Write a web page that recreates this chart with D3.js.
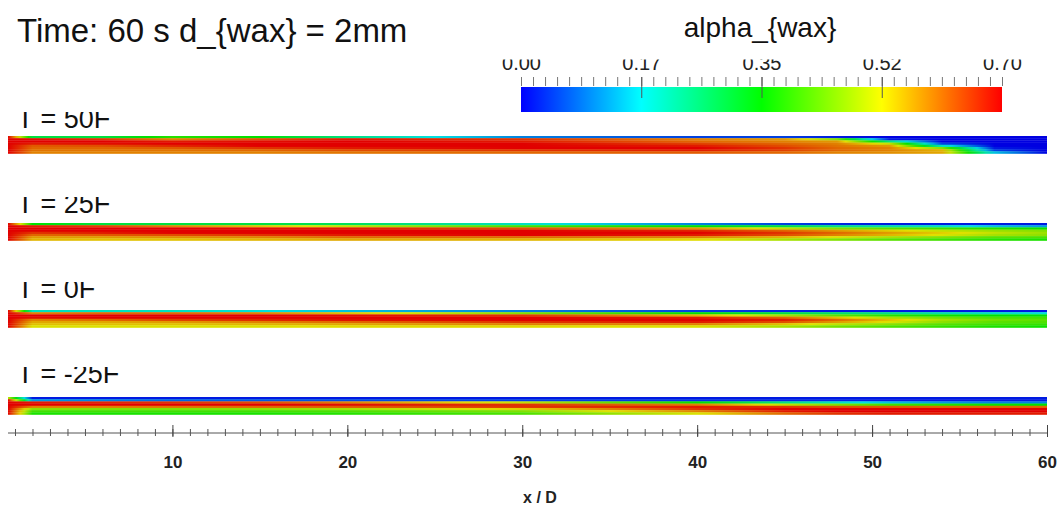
<!DOCTYPE html>
<html>
<head>
<meta charset="utf-8">
<script src="https://cdn.jsdelivr.net/npm/d3@7"></script>
<style>
  body { margin: 0; background: #fff; }
  svg { display: block; font-family: "Liberation Sans", Arial, sans-serif; }
</style>
</head>
<body>
<script>
const caseLabels = ["T = 50F", "T = 25F", "T = 0F", "T = -25F"]

const stations = [0.6, 2, 6, 10, 15, 20, 30, 40, 45, 48, 51, 54, 57, 60]

// alpha_wax per layer, top wall -> bottom wall
const alpha50 = [
  [0.70, 0.30, 0.30, 0.38, 0.35, 0.25, 0.10, 0.05, 0.05, 0.02, 0.00, 0.00, 0.00, 0.00],
  [0.70, 0.69, 0.66, 0.60, 0.64, 0.68, 0.66, 0.60, 0.58, 0.45, 0.02, 0.00, 0.00, 0.00],
  [0.70, 0.70, 0.70, 0.68, 0.69, 0.70, 0.68, 0.62, 0.60, 0.58, 0.25, 0.00, 0.00, 0.00],
  [0.70, 0.68, 0.69, 0.70, 0.70, 0.70, 0.70, 0.65, 0.62, 0.60, 0.50, 0.05, 0.00, 0.00],
  [0.70, 0.63, 0.64, 0.67, 0.70, 0.70, 0.70, 0.68, 0.64, 0.61, 0.58, 0.20, 0.00, 0.00],
  [0.70, 0.62, 0.62, 0.63, 0.66, 0.68, 0.70, 0.70, 0.66, 0.62, 0.60, 0.45, 0.02, 0.00],
  [0.70, 0.61, 0.61, 0.61, 0.62, 0.64, 0.66, 0.68, 0.65, 0.62, 0.60, 0.56, 0.05, 0.00],
  [0.70, 0.60, 0.60, 0.60, 0.60, 0.61, 0.62, 0.63, 0.62, 0.60, 0.59, 0.57, 0.15, 0.00]
]
const alpha25 = [
  [0.70, 0.35, 0.30, 0.30, 0.30, 0.28, 0.20, 0.10, 0.05, 0.03, 0.02, 0.02, 0.02, 0.02],
  [0.70, 0.68, 0.65, 0.60, 0.55, 0.50, 0.40, 0.35, 0.30, 0.25, 0.22, 0.20, 0.15, 0.12],
  [0.70, 0.70, 0.70, 0.70, 0.69, 0.68, 0.64, 0.58, 0.50, 0.45, 0.42, 0.40, 0.38, 0.36],
  [0.70, 0.70, 0.70, 0.70, 0.70, 0.70, 0.70, 0.67, 0.62, 0.58, 0.54, 0.50, 0.47, 0.45],
  [0.70, 0.66, 0.68, 0.70, 0.70, 0.70, 0.70, 0.70, 0.66, 0.62, 0.58, 0.54, 0.50, 0.47],
  [0.70, 0.62, 0.63, 0.64, 0.66, 0.68, 0.70, 0.68, 0.64, 0.60, 0.56, 0.52, 0.48, 0.46],
  [0.70, 0.58, 0.58, 0.59, 0.60, 0.62, 0.62, 0.60, 0.56, 0.52, 0.48, 0.45, 0.42, 0.41],
  [0.70, 0.56, 0.55, 0.55, 0.56, 0.57, 0.56, 0.53, 0.48, 0.45, 0.42, 0.40, 0.38, 0.37]
]
const alpha0 = [
  [0.70, 0.20, 0.20, 0.20, 0.18, 0.15, 0.10, 0.05, 0.03, 0.02, 0.02, 0.02, 0.02, 0.02],
  [0.70, 0.60, 0.62, 0.62, 0.60, 0.55, 0.45, 0.35, 0.30, 0.27, 0.25, 0.22, 0.20, 0.18],
  [0.70, 0.70, 0.70, 0.70, 0.70, 0.69, 0.66, 0.56, 0.48, 0.42, 0.38, 0.36, 0.35, 0.34],
  [0.70, 0.69, 0.70, 0.70, 0.70, 0.70, 0.70, 0.68, 0.62, 0.55, 0.48, 0.44, 0.41, 0.40],
  [0.70, 0.60, 0.62, 0.65, 0.67, 0.69, 0.70, 0.70, 0.68, 0.62, 0.55, 0.48, 0.44, 0.42],
  [0.70, 0.57, 0.57, 0.58, 0.60, 0.62, 0.66, 0.68, 0.64, 0.58, 0.52, 0.46, 0.42, 0.41],
  [0.70, 0.55, 0.55, 0.55, 0.56, 0.57, 0.60, 0.60, 0.55, 0.50, 0.46, 0.42, 0.40, 0.39],
  [0.70, 0.52, 0.52, 0.52, 0.52, 0.53, 0.53, 0.52, 0.48, 0.44, 0.41, 0.39, 0.37, 0.36]
]
const alphaM25 = [
  [0.50, 0.02, 0.02, 0.02, 0.02, 0.02, 0.02, 0.02, 0.02, 0.02, 0.02, 0.02, 0.02, 0.02],
  [0.70, 0.12, 0.10, 0.08, 0.07, 0.06, 0.05, 0.04, 0.03, 0.03, 0.02, 0.02, 0.02, 0.02],
  [0.70, 0.68, 0.67, 0.66, 0.64, 0.60, 0.50, 0.35, 0.25, 0.20, 0.15, 0.12, 0.10, 0.10],
  [0.70, 0.70, 0.70, 0.70, 0.70, 0.69, 0.66, 0.60, 0.50, 0.45, 0.40, 0.38, 0.36, 0.35],
  [0.70, 0.60, 0.60, 0.61, 0.62, 0.63, 0.66, 0.68, 0.66, 0.64, 0.63, 0.62, 0.62, 0.62],
  [0.70, 0.46, 0.45, 0.45, 0.46, 0.48, 0.54, 0.66, 0.70, 0.70, 0.70, 0.70, 0.70, 0.70],
  [0.70, 0.40, 0.40, 0.40, 0.40, 0.41, 0.45, 0.60, 0.68, 0.70, 0.70, 0.70, 0.70, 0.70],
  [0.70, 0.37, 0.37, 0.37, 0.37, 0.38, 0.41, 0.52, 0.62, 0.66, 0.68, 0.68, 0.68, 0.68]
]
const fields = [alpha50, alpha25, alpha0, alphaM25]

const cbTicks = [0, 0.175, 0.35, 0.525, 0.7]
const cbTickLabels = ["0.00", "0.17", "0.35", "0.52", "0.70"]
const xTicks = [10, 20, 30, 40, 50, 60]

const W = 1064, H = 516
const svg = d3.select("body").append("svg").attr("width", W).attr("height", H)
const defs = svg.append("defs")

// blue -> cyan -> green -> yellow -> red
const colour = d3.scaleLinear()
  .domain([0, 0.175, 0.35, 0.525, 0.7])
  .range(["#0000ff", "#00ffff", "#00ff00", "#ffff00", "#ff0000"])
  .clamp(true)
// the pipe surfaces are lit, so a bit darker than the bar
const shade = v => d3.color(colour(v)).darker(0.35).formatHex()

const x = d3.scaleLinear().domain([0.6, 60]).range([8, 1047])
const rowY = d3.scalePoint().domain(caseLabels).range([136, 397])
const labelY = d3.scalePoint().domain(caseLabels).range([128, 383])
const stripH = 17.5
const [x0, x1] = x.range()

// title
svg.append("text").attr("x", 17).attr("y", 42)
  .attr("font-size", 33).attr("fill", "#111")
  .text("Time: 60 s d_{wax} = 2mm")

// strips
fields.forEach((rows, i) => {
  const lab = caseLabels[i]
  const layerH = stripH / rows.length
  const g = svg.append("g").attr("class", "strip")
  rows.forEach((vals, j) => {
    const id = `grad-${i}-${j}`
    // shade between read stations in value space, like the solver's colour map
    const stops = []
    for (let k = 0; k < stations.length - 1; k++) {
      for (let s = 0; s < 6; s++) {
        const t = s / 6
        stops.push({ s: stations[k] + t * (stations[k + 1] - stations[k]),
                     v: vals[k] + t * (vals[k + 1] - vals[k]) })
      }
    }
    stops.push({ s: stations[stations.length - 1], v: vals[vals.length - 1] })
    defs.append("linearGradient").attr("id", id)
      .attr("gradientUnits", "userSpaceOnUse")
      .attr("x1", x0).attr("x2", x1).attr("y1", 0).attr("y2", 0)
      .selectAll("stop").data(stops).join("stop")
      .attr("offset", d => (x(d.s) - x0) / (x1 - x0))
      .attr("stop-color", d => shade(d.v))
    g.append("rect")
      .attr("x", x0).attr("width", x1 - x0)
      .attr("y", rowY(lab) + j * layerH).attr("height", layerH + 0.3)
      .attr("fill", `url(#${id})`)
  })

  // label, top of glyphs cut off as in the source
  defs.append("clipPath").attr("id", `lab-clip-${i}`)
    .append("rect").attr("x", 0).attr("y", labelY(lab) - 16).attr("width", 250).attr("height", 30)
  svg.append("text").attr("clip-path", `url(#lab-clip-${i})`)
    .attr("x", 17).attr("y", labelY(lab))
    .attr("font-size", 27).attr("fill", "#111")
    .text(lab)
})

// colour bar
const cb = d3.scaleLinear().domain([0, 0.7]).range([521, 1002])
defs.append("linearGradient").attr("id", "cb-grad")
  .attr("gradientUnits", "userSpaceOnUse")
  .attr("x1", cb.range()[0]).attr("x2", cb.range()[1]).attr("y1", 0).attr("y2", 0)
  .selectAll("stop").data(d3.range(0, 29).map(i => i * 0.025)).join("stop")
  .attr("offset", d => d / 0.7)
  .attr("stop-color", d => colour(d))

svg.append("rect").attr("x", cb.range()[0]).attr("y", 87)
  .attr("width", cb.range()[1] - cb.range()[0]).attr("height", 25)
  .attr("fill", "url(#cb-grad)")

svg.append("text").attr("x", 760).attr("y", 37)
  .attr("text-anchor", "middle").attr("font-size", 28).attr("fill", "#111")
  .text("alpha_{wax}")

const cbMinor = svg.append("g").attr("transform", "translate(0,86)")
  .call(d3.axisTop(cb).tickValues(d3.range(41).map(i => i * 0.0175)).tickSize(9).tickFormat(""))
cbMinor.select(".domain").remove()
cbMinor.selectAll("line").attr("stroke", "#777")

const cbMajor = svg.append("g").attr("transform", "translate(0,98)")
  .call(d3.axisTop(cb).tickValues(cbTicks.slice(1, -1)).tickSize(21).tickFormat(""))
cbMajor.select(".domain").remove()
cbMajor.selectAll("line").attr("stroke", "#555")

defs.append("clipPath").attr("id", "cb-lab-clip")
  .append("rect").attr("x", 480).attr("y", 59.5).attr("width", 584).attr("height", 20)
const cbLab = svg.append("g").attr("clip-path", "url(#cb-lab-clip)")
  .append("g").attr("transform", "translate(0,70)")
  .call(d3.axisTop(cb).tickValues(cbTicks).tickFormat((d, i) => cbTickLabels[i]).tickSize(0).tickPadding(0))
cbLab.attr("font-size", 20).attr("font-family", null)
cbLab.select(".domain").remove()
cbLab.selectAll("text").attr("fill", "#222")

// x axis
svg.append("line")
  .attr("x1", x0).attr("x2", x1).attr("y1", 433).attr("y2", 433)
  .attr("stroke", "#555")

const xMinor = svg.append("g").attr("transform", "translate(0,429)")
  .call(d3.axisBottom(x).tickValues(d3.range(1, 61)).tickSize(7).tickFormat(""))
xMinor.select(".domain").remove()
xMinor.selectAll("line").attr("stroke", "#555")

const xMajor = svg.append("g").attr("transform", "translate(0,425)")
  .call(d3.axisBottom(x).tickValues(xTicks).tickSize(12).tickPadding(19))
xMajor.attr("font-size", 17).attr("font-family", null).attr("font-weight", "bold")
xMajor.select(".domain").remove()
xMajor.selectAll("line").attr("stroke", "#444")
xMajor.selectAll("text").attr("fill", "#222")

svg.append("text").attr("x", 540).attr("y", 503)
  .attr("text-anchor", "middle").attr("font-size", 16).attr("font-weight", "bold").attr("fill", "#222")
  .text("x / D")
</script>
</body>
</html>
